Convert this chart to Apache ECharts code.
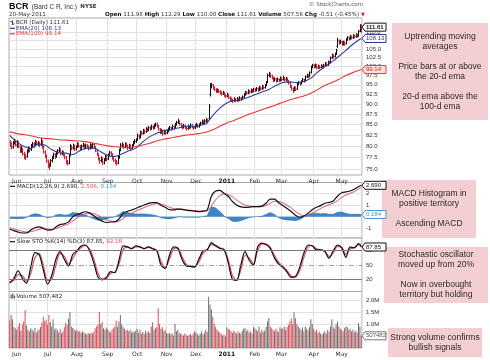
<!DOCTYPE html>
<html><head><meta charset="utf-8">
<script src="https://cdn.jsdelivr.net/npm/echarts@6/dist/echarts.min.js"></script>
<style>html,body{margin:0;padding:0;background:#fff}#c{width:490px;height:360px}</style>
</head><body><div id="c"></div>
<script>
// ---------- DATA ----------
const monthLabels = ['Jun','Jul','Aug','Sep','Oct','Nov','Dec','2011','Feb','Mar','Apr','May'];
const monthStartIdx = [5,27,48,70,91,112,133,155,175,194,217,237];
const priceTicks = [75,77.5,80,82.5,85,87.5,90,92.5,95,97.5,100,102.5,105,107.5,110];
const macdTicks = [-1,0,1,2];
const stoTicks = [20,50,80];
const volTicksK = [500,1000,1500,2000];

// daily bars [open, high, low, close], 24-May-2010 .. 20-May-2011
const ohlc = [
[80.9,81.3,79.9,80.6],[80.5,80.8,79.4,79.8],[79.9,81.1,79.6,80.9],[80.8,81.6,80.5,81.2],[81.1,81.4,80.1,80.4],
[80.2,81.3,79.8,81.0],[80.8,81.0,79.7,80.1],[79.8,80.1,78.6,78.9],[79.1,79.9,78.7,79.5],[79.3,79.6,78.1,78.4],
[78.3,78.7,77.3,77.8],[77.9,78.3,77.1,77.6],[77.8,79.2,77.6,78.9],[79.0,79.9,78.7,79.6],[79.4,79.8,78.8,79.2],
[79.4,80.4,79.1,80.1],[80.0,80.9,79.8,80.5],[80.6,80.8,79.8,80.2],[80.3,81.3,80.1,81.0],[80.9,81.2,80.3,80.6],
[80.5,81.1,80.2,80.8],[80.7,80.9,79.9,80.3],[80.4,81.8,80.2,81.4],[81.2,81.3,79.6,79.9],[79.8,80.1,78.5,78.8],
[78.7,79.0,77.5,77.9],[77.8,78.1,76.5,76.8],[76.7,77.0,75.4,75.9],[75.8,76.4,75.0,75.6],[75.9,77.1,75.7,76.8],
[76.9,77.8,76.6,77.5],[77.6,78.5,77.3,78.2],[78.1,78.4,77.3,77.7],[77.8,78.9,77.6,78.6],[78.5,79.3,78.3,79.0],
[79.1,79.7,78.8,79.4],[79.2,79.4,78.1,78.4],[78.5,79.0,78.2,78.7],[78.6,78.9,77.9,78.2],[78.1,78.3,77.3,77.6],
[77.5,77.8,76.2,76.6],[76.5,76.9,75.9,76.3],[76.4,78.1,76.2,77.8],[78.2,80.4,78.0,80.0],[79.9,80.2,79.2,79.6],
[79.7,80.5,79.4,80.2],[80.1,80.3,79.1,79.4],[79.5,80.1,79.2,79.8],[80.0,80.8,79.8,80.5],[80.4,80.7,79.8,80.1],
[80.0,80.2,79.1,79.4],[79.5,80.3,79.3,80.0],[80.1,80.7,79.9,80.4],[80.3,80.5,79.4,79.7],[79.8,80.5,79.6,80.2],
[80.1,80.4,79.7,80.0],[79.9,80.1,79.2,79.5],[79.6,80.6,79.4,80.3],[80.2,80.4,79.5,79.8],[79.9,80.7,79.7,80.4],
[80.3,80.5,79.6,79.9],[79.8,80.0,78.8,79.0],[78.9,79.2,78.0,78.2],[78.1,78.4,77.0,77.3],[77.2,77.5,76.3,76.8],
[76.9,77.7,76.6,77.4],[77.3,77.5,76.0,76.4],[76.5,77.3,76.2,77.0],[77.1,78.1,76.9,77.8],[77.7,77.9,76.8,77.1],
[77.3,78.3,77.1,78.0],[78.1,78.9,77.9,78.6],[78.5,78.8,77.9,78.3],[78.2,78.4,77.2,77.5],[77.4,77.7,76.7,77.0],
[76.9,77.2,76.2,76.6],[76.5,76.9,75.9,76.3],[76.4,77.8,76.2,77.5],[77.6,79.4,77.4,79.2],[79.3,80.6,79.0,80.3],
[80.2,80.8,79.9,80.4],[80.3,80.5,79.5,79.8],[79.9,80.8,79.7,80.5],[80.4,80.7,79.8,80.1],[80.0,80.3,79.3,79.6],
[79.7,80.5,79.5,80.2],[80.1,80.3,79.2,79.5],[79.6,80.4,79.4,80.1],[80.2,81.1,80.0,80.9],[80.8,81.5,80.6,81.2],
[81.1,81.7,80.9,81.4],[81.6,82.8,81.4,82.4],[82.3,82.6,81.7,82.0],[82.1,83.5,81.9,83.2],[83.1,83.4,82.6,83.0],
[83.0,83.9,82.8,83.6],[83.5,83.8,82.9,83.3],[83.4,84.3,83.2,84.0],[83.9,84.2,83.4,83.7],[83.8,84.6,83.6,84.3],
[84.2,84.5,83.7,84.0],[84.1,84.9,83.9,84.5],[84.4,84.7,83.9,84.2],[84.3,85.1,84.1,84.8],[84.8,85.4,84.6,85.0],
[85.0,85.4,84.4,84.7],[84.6,84.8,83.7,84.0],[83.9,84.1,82.9,83.2],[83.3,83.9,83.0,83.6],[83.5,83.7,82.5,82.9],
[83.0,83.7,82.8,83.4],[83.3,83.6,82.7,83.0],[83.1,83.8,82.9,83.5],[83.6,84.2,83.3,83.9],[83.8,84.6,83.6,84.3],
[84.2,84.4,83.7,84.0],[84.1,84.9,83.9,84.6],[84.5,84.7,83.9,84.2],[84.3,85.3,84.1,85.0],[85.1,85.8,84.9,85.5],
[85.6,86.3,85.3,85.8],[85.7,85.9,84.9,85.2],[85.1,85.3,84.4,84.7],[84.6,84.8,84.0,84.3],[84.4,85.1,84.2,84.8],
[84.7,84.9,84.1,84.4],[84.3,84.6,83.7,84.0],[84.1,84.9,83.9,84.6],[84.5,84.7,84.0,84.3],[84.4,85.2,84.2,84.9],
[84.8,85.0,84.2,84.5],[84.4,84.6,83.9,84.2],[84.3,85.0,84.1,84.7],[84.8,85.3,84.5,85.0],[84.9,85.1,84.3,84.6],
[84.7,85.2,84.4,84.9],[85.0,85.6,84.8,85.3],[85.4,86.1,85.2,85.8],[85.7,85.9,85.1,85.4],[85.5,86.2,85.3,85.9],
[85.8,86.5,85.6,86.2],[86.1,86.3,85.4,85.7],[86.5,89.9,86.3,89.5],[92.5,95.3,92.1,94.8],[94.7,95.4,94.2,95.0],
[94.8,95.1,93.9,94.3],[94.2,94.5,93.5,93.8],[93.7,94.0,93.0,93.4],[93.3,93.9,93.1,93.6],[93.5,93.8,92.9,93.2],
[93.2,93.5,92.6,93.0],[92.9,93.2,92.3,92.6],[92.7,93.3,92.5,92.9],[92.8,93.0,92.0,92.3],[92.2,92.5,91.7,92.0],
[92.1,92.8,91.9,92.4],[92.3,92.5,91.4,91.7],[91.6,91.9,90.9,91.2],[91.3,91.6,90.7,91.0],[91.0,91.3,90.4,90.8],
[90.9,91.6,90.7,91.3],[91.2,91.4,90.6,90.9],[91.0,91.7,90.8,91.4],[91.3,91.5,90.7,91.0],[91.1,91.9,90.9,91.6],
[91.5,91.7,91.0,91.3],[91.4,92.1,91.2,91.8],[91.9,92.7,91.7,92.4],[92.5,93.3,92.3,93.0],[92.9,93.2,92.5,92.8],
[92.9,93.7,92.7,93.4],[93.3,93.5,92.8,93.1],[93.2,93.9,93.0,93.6],[93.5,93.8,93.0,93.3],[93.4,94.1,93.2,93.8],
[93.7,94.0,93.2,93.5],[93.6,94.3,93.4,94.0],[93.9,94.2,93.3,93.6],[93.7,94.6,93.5,94.3],[94.2,94.4,93.6,93.9],
[94.0,94.9,93.8,94.6],[94.5,94.7,93.9,94.2],[94.3,95.1,94.1,94.8],[94.9,95.9,94.7,95.6],[95.8,97.9,95.6,97.5],
[97.6,98.4,97.2,98.0],[97.9,98.1,97.0,97.4],[97.3,97.6,96.6,96.9],[96.8,97.1,95.9,96.2],[96.3,96.9,96.0,96.6],
[96.5,96.7,95.7,96.0],[96.1,96.8,95.9,96.5],[96.4,96.6,95.8,96.1],[96.2,97.1,96.0,96.8],[96.7,97.0,96.1,96.4],
[96.5,97.3,96.3,96.9],[96.8,97.0,96.0,96.3],[96.4,97.0,96.2,96.7],[96.6,96.8,95.7,96.0],[95.9,96.2,95.2,95.5],
[95.4,95.7,94.3,94.6],[94.5,94.8,93.6,94.0],[93.9,94.2,93.0,93.5],[93.6,94.5,93.4,94.2],[94.1,94.4,93.5,93.8],
[93.9,95.4,93.8,95.2],[95.3,95.9,95.0,95.6],[95.5,95.7,94.9,95.3],[95.4,96.1,95.2,95.9],[96.0,96.7,95.8,96.4],
[96.3,96.5,95.7,96.0],[96.2,97.4,96.0,97.1],[97.2,97.9,97.0,97.6],[97.5,97.7,96.9,97.3],[97.4,98.5,97.2,98.2],
[98.4,100.1,98.2,99.8],[99.9,100.6,99.6,100.3],[100.2,100.5,99.6,99.9],[100.0,100.7,99.8,100.4],[100.3,100.5,99.3,99.6],
[99.7,100.4,99.5,100.1],[100.0,100.2,99.4,99.7],[99.8,100.5,99.6,100.2],[100.1,100.3,99.5,99.8],[99.9,100.6,99.7,100.3],
[100.4,101.1,100.2,100.8],[100.7,101.0,100.1,100.4],[100.5,101.5,100.3,101.2],[101.1,101.4,100.7,101.0],[101.2,102.7,101.0,102.4],
[102.5,103.5,102.3,103.2],[103.1,103.4,102.4,102.8],[102.9,103.8,102.7,103.5],[103.6,104.9,103.4,104.6],[105.8,108.2,105.5,107.4],
[107.3,107.7,106.4,106.8],[106.9,107.6,106.6,107.2],[107.1,107.3,106.1,106.4],[106.5,107.3,106.2,107.0],[106.9,107.2,106.1,106.5],
[106.7,108.1,106.5,107.8],[107.9,108.7,107.6,108.4],[108.3,108.6,107.7,108.0],[108.1,109.0,107.9,108.7],[108.6,108.9,108.0,108.3],
[108.4,109.3,108.2,109.0],[108.9,109.2,108.3,108.6],[108.7,109.6,108.5,109.2],[109.1,109.4,108.6,108.9],[109.0,110.6,108.8,110.3],
[110.4,112.4,110.2,112.12],[111.98,112.29,110.08,111.61]
];

// daily volume, thousands of shares
const volumeK = [
1150,1380,1200,880,820,760,900,1050,720,980,1100,1580,940,760,700,820,760,690,840,640,
720,780,880,1050,1300,1100,1180,980,1370,1080,900,1200,760,820,740,650,790,620,700,860,
1050,960,1220,1500,900,840,780,700,760,680,720,640,700,650,600,560,620,580,640,600,
680,820,900,980,1500,1000,1080,820,760,850,780,700,650,760,820,900,1150,880,1100,1370,
980,860,800,720,760,700,760,640,700,660,720,800,620,760,600,680,580,720,640,700,
620,900,1070,760,820,880,1660,1000,800,860,700,760,620,580,640,560,600,520,1000,700,
760,640,600,560,520,600,560,500,540,580,520,600,700,640,580,520,600,700,560,640,
760,680,2140,1800,1600,1300,1000,880,760,700,640,600,520,560,480,860,800,760,700,640,
720,660,600,700,640,600,720,800,840,700,760,640,700,600,880,820,760,700,900,640,
760,680,720,880,1100,1250,900,820,760,700,800,720,660,860,780,820,900,760,880,960,
1100,1240,1000,1490,1240,1000,900,820,760,860,700,900,800,740,860,1200,1000,800,700,760,
620,680,600,560,640,700,600,760,680,900,1200,860,800,980,1100,900,800,760,700,820,
900,860,760,800,700,760,660,720,640,1030,900,507.482
];

// moving averages sampled every 5 sessions (session index)
const emaIdx = [0,5,10,15,20,25,30,35,40,45,50,55,60,65,70,75,80,85,90,95,100,105,110,115,120,125,130,135,140,145,150,155,160,165,170,175,180,185,190,195,200,205,210,215,220,225,230,235,240,245,250,251];
const ema20 = [82.5,81.0,80.0,79.5,80.5,80.3,79.3,78.6,78.5,78.2,79.0,79.6,79.6,78.8,78.0,77.8,78.3,79.0,79.6,81.0,82.2,83.0,83.6,83.8,84.2,84.5,84.5,84.8,85.2,87.2,89.0,90.3,91.0,91.1,91.7,92.4,93.1,93.8,94.8,95.6,95.8,95.6,95.9,96.8,98.5,99.9,101.3,102.9,104.6,106.4,107.9,108.13];
const ema100 = [83.3,82.9,82.7,82.4,82.0,81.8,81.7,81.5,81.4,81.3,81.2,81.0,80.7,80.4,80.1,79.9,79.8,79.8,79.9,80.3,80.7,81.2,81.6,81.9,82.2,82.5,82.7,82.9,83.2,83.8,84.6,85.4,86.0,86.7,87.4,88.0,88.6,89.2,89.8,90.5,91.1,91.6,92.1,92.8,93.8,94.8,95.6,96.5,97.5,98.3,99.0,99.14];

// oscillators sampled every 3 sessions
const oscIdx = [0,3,6,9,12,15,18,21,24,27,30,33,36,39,42,45,48,51,54,57,60,63,66,69,72,75,78,81,84,87,90,93,96,99,102,105,108,111,114,117,120,123,126,129,132,135,138,141,144,147,150,153,156,159,162,165,168,171,174,177,180,183,186,189,192,195,198,201,204,207,210,213,216,219,222,225,228,231,234,237,240,243,246,249,251];
const macdLine = [-1.08,-1.2,-1.32,-1.4,-1.4,-1.15,-0.95,-0.88,-1.0,-1.15,-1.14,-0.88,-0.68,-0.62,-0.45,-0.02,0.18,0.3,0.42,0.3,0.08,-0.2,-0.38,-0.5,-0.46,-0.45,-0.2,0.28,0.45,0.57,0.7,0.86,1.0,1.14,1.2,1.2,0.98,0.8,0.6,0.58,0.64,0.62,0.55,0.51,0.47,0.43,0.48,0.57,1.75,2.2,2.25,2.0,1.75,1.3,1.0,0.84,0.8,0.82,0.86,0.86,0.9,1.15,1.5,1.5,1.2,0.95,0.7,0.45,0.12,-0.05,0.05,0.3,0.6,0.8,0.95,1.15,1.22,1.35,1.75,2.05,2.12,2.2,2.35,2.57,2.69];
const macdSignal = [-0.95,-1.05,-1.15,-1.25,-1.32,-1.3,-1.2,-1.08,-1.02,-1.05,-1.1,-1.02,-0.88,-0.75,-0.62,-0.38,-0.12,0.08,0.25,0.32,0.26,0.1,-0.1,-0.28,-0.38,-0.43,-0.38,-0.16,0.1,0.3,0.48,0.63,0.78,0.93,1.05,1.12,1.08,0.96,0.8,0.7,0.66,0.64,0.6,0.56,0.52,0.48,0.47,0.5,0.9,1.45,1.8,1.95,1.9,1.7,1.42,1.18,1.0,0.9,0.87,0.86,0.87,0.96,1.15,1.32,1.3,1.18,0.98,0.75,0.46,0.2,0.08,0.12,0.3,0.5,0.7,0.88,1.02,1.15,1.38,1.65,1.85,2.0,2.15,2.36,2.506];
const macdHist = [-0.13,-0.15,-0.17,-0.15,-0.08,0.15,0.25,0.2,0.02,-0.1,-0.04,0.14,0.2,0.13,0.17,0.36,0.3,0.22,0.17,-0.02,-0.18,-0.3,-0.28,-0.22,-0.08,-0.02,0.18,0.44,0.35,0.27,0.22,0.23,0.22,0.21,0.15,0.08,-0.1,-0.16,-0.2,-0.12,-0.02,-0.02,-0.05,-0.05,-0.05,-0.05,0.01,0.07,0.85,0.75,0.45,0.05,-0.15,-0.4,-0.42,-0.34,-0.2,-0.08,-0.01,0.0,0.03,0.19,0.35,0.18,-0.1,-0.23,-0.28,-0.3,-0.34,-0.25,-0.03,0.18,0.3,0.3,0.25,0.27,0.2,0.2,0.37,0.4,0.27,0.2,0.2,0.21,0.184];
const stoK = [12,22,38,22,12,45,76,72,40,10,28,62,78,62,48,72,80,90,92,80,55,25,19,24,36,34,60,90,88,84,90,88,84,88,84,80,50,43,70,88,85,62,48,47,46,62,80,82,97,90,85,82,55,20,18,50,78,60,50,88,96,93,85,65,52,45,35,24,26,45,75,92,90,82,82,78,64,80,92,86,66,88,86,95,87.85];
const stoD = [15,18,30,28,16,32,65,74,50,18,20,50,74,68,52,64,78,87,91,84,63,33,21,22,33,35,52,82,88,85,88,88,85,87,85,81,58,45,62,84,86,68,52,47,46,56,75,82,93,92,86,83,62,28,18,40,70,65,53,80,94,94,87,70,56,47,38,27,25,38,66,88,91,84,82,79,68,76,89,88,72,84,87,92,92.16];

// ---------- BUILD ----------
const FONT = '"DejaVu Sans", sans-serif';
const AFONT = '"Liberation Sans", Arial, sans-serif';
const cats = ohlc.map((d, i) => String(i));
const labelAt = {};
monthStartIdx.forEach((k, j) => { labelAt[k] = monthLabels[j]; });
const isMonth = (i) => labelAt[i] !== undefined;

const priceMin = 73.85, priceMax = 114.5;
const up = ohlc.map((d, i) => d[3] >= (i > 0 ? ohlc[i - 1][3] : d[0]));
const barData = ohlc.map((d, i) => [i, Math.log(d[0]), Math.log(d[1]), Math.log(d[2]), Math.log(d[3]), up[i] ? 1 : 0]);

const RED = '#d8202e', VRED = '#d9505b', VGRAY = '#6d6d6d';
const GRIDC = '#e2e2e2', BORDER = '#a8a8a8';

const L = 9, R = 128;
const grids = [
  {left: L, right: R, top: 18, height: 157},
  {left: L, right: R, top: 182.5, height: 55.5},
  {left: L, right: R, top: 238, height: 53.5},
  {left: L, right: R, top: 291.5, height: 56.5}
].map(g => Object.assign(g, {show: true, borderColor: BORDER, borderWidth: 1, backgroundColor: '#fff', containLabel: false}));

function xAx(gi, showLabel) {
  return {
    type: 'category', gridIndex: gi, data: cats, boundaryGap: true,
    axisLine: {show: false}, axisTick: {show: false},
    axisLabel: {
      show: showLabel, interval: (i) => isMonth(i), margin: 3,
      formatter: (v, i) => labelAt[i] === '2011' ? '{b|2011}' : (labelAt[i] || ''),
      fontSize: 6, color: '#333', fontFamily: FONT,
      rich: {b: {fontWeight: 'bold', fontSize: 6, fontFamily: FONT, color: '#111'}}
    },
    splitLine: {show: true, interval: (i) => isMonth(i), lineStyle: {color: GRIDC, width: 1}}
  };
}
function yAx(gi, min, max, ticks, fmt) {
  return {
    type: 'value', gridIndex: gi, position: 'right', min, max, scale: true,
    axisLine: {show: false},
    axisTick: {show: false, customValues: ticks},
    axisLabel: {customValues: ticks, formatter: fmt, fontSize: 6, color: '#333', margin: 4, fontFamily: AFONT},
    splitLine: {show: true, lineStyle: {color: GRIDC, width: 1}}
  };
}

const option = {
  animation: false,
  backgroundColor: '#fff',
  textStyle: {fontFamily: FONT},
  grid: grids,
  xAxis: [xAx(0, true), xAx(1, false), xAx(2, false), xAx(3, true)],
  yAxis: [
    yAx(0, Math.log(priceMin), Math.log(priceMax), priceTicks.map(Math.log), v => Math.exp(v).toFixed(1)),
    yAx(1, -1.83, 2.93, macdTicks, v => String(Math.round(v))),
    Object.assign(yAx(2, -5.5, 106.7, stoTicks, v => String(Math.round(v))), {splitLine: {show: false}}),
    yAx(3, 0, 2354, volTicksK, v => (v / 1000).toFixed(1) + 'M')
  ],
  series: [
    {
      type: 'custom', xAxisIndex: 0, yAxisIndex: 0, data: barData, clip: true,
      encode: {x: 0, y: [1, 2, 3, 4]},
      renderItem: (params, api) => {
        const i = api.value(0);
        const pO = api.coord([i, api.value(1)]), pH = api.coord([i, api.value(2)]);
        const pL = api.coord([i, api.value(3)]), pC = api.coord([i, api.value(4)]);
        const col = api.value(5) ? '#111' : RED;
        const x = Math.round(pH[0]) + 0.5;
        const st = {stroke: col, lineWidth: 1};
        return {type: 'group', children: [
          {type: 'line', shape: {x1: x, y1: pH[1] - 0.5, x2: x, y2: pL[1] + 0.5}, style: st},
          {type: 'line', shape: {x1: x - 1, y1: pO[1], x2: x, y2: pO[1]}, style: st},
          {type: 'line', shape: {x1: x, y1: pC[1], x2: x + 1, y2: pC[1]}, style: st}
        ]};
      }
    },
    {type: 'line', xAxisIndex: 0, yAxisIndex: 0, data: emaIdx.map((k, j) => [k, Math.log(ema20[j])]), showSymbol: false, smooth: 0.3, lineStyle: {color: '#2d3a96', width: 1.1}},
    {type: 'line', xAxisIndex: 0, yAxisIndex: 0, data: emaIdx.map((k, j) => [k, Math.log(ema100[j])]), showSymbol: false, smooth: 0.3, lineStyle: {color: '#e23a3a', width: 1.1}},
    {type: 'line', xAxisIndex: 1, yAxisIndex: 1, data: oscIdx.map((k, j) => [k, macdHist[j]]), showSymbol: false, lineStyle: {color: '#2a6aa8', width: 0.6}, areaStyle: {color: '#3f86c8', opacity: 1, origin: 0}},
    {type: 'line', xAxisIndex: 1, yAxisIndex: 1, data: oscIdx.map((k, j) => [k, macdSignal[j]]), showSymbol: false, smooth: 0.3, lineStyle: {color: '#e05060', width: 1}},
    {type: 'line', xAxisIndex: 1, yAxisIndex: 1, data: oscIdx.map((k, j) => [k, macdLine[j]]), showSymbol: false, smooth: 0.3, lineStyle: {color: '#111', width: 1.2}},
    {type: 'line', xAxisIndex: 2, yAxisIndex: 2, data: oscIdx.map((k, j) => [k, stoD[j]]), showSymbol: false, smooth: 0.3, lineStyle: {color: '#e05060', width: 1.2},
      markLine: {silent: true, symbol: 'none', label: {show: false}, data: [
        {yAxis: 80, lineStyle: {color: '#777', width: 1, type: 'solid'}},
        {yAxis: 20, lineStyle: {color: '#777', width: 1, type: 'solid'}},
        {yAxis: 50, lineStyle: {color: '#888', width: 0.8, type: [5, 2, 1, 2]}}
      ]}},
    {type: 'line', xAxisIndex: 2, yAxisIndex: 2, data: oscIdx.map((k, j) => [k, stoK[j]]), showSymbol: false, smooth: 0.3, lineStyle: {color: '#111', width: 1.2}},
    {type: 'bar', xAxisIndex: 3, yAxisIndex: 3, barWidth: 1, data: volumeK.map((v, i) => ({value: v, itemStyle: {color: up[i] ? VGRAY : VRED}}))}
  ]
};

const chart = echarts.init(document.getElementById('c'), null, {renderer: 'canvas', width: 490, height: 360});
chart.setOption(option);

// ---------- ANNOTATIONS ----------
function T(x, y, text, font, fill, align) {
  return {type: 'text', x, y, z: 50, style: {text, font, fill, align: align || 'left', textAlign: align || 'left', verticalAlign: 'middle', textVerticalAlign: 'middle'}};
}
function tag(y, text, stroke, color, fill, bold) {
  const x = 362;
  return [
    {type: 'polygon', z: 60, shape: {points: [[x, y], [x + 3, y - 4], [x + 24, y - 4], [x + 24, y + 4], [x + 3, y + 4]]}, style: {fill: fill || '#fff', stroke, lineWidth: 1}},
    {type: 'text', z: 61, x: x + 4, y: y, style: {text, fill: color, font: (bold ? 'bold ' : '') + '6px ' + AFONT, verticalAlign: 'middle', textVerticalAlign: 'middle'}}
  ];
}
const py = (p) => chart.convertToPixel({gridIndex: 0}, [251, Math.log(p)])[1];
const my = (v) => chart.convertToPixel({gridIndex: 1}, [251, v])[1];
const sy = (v) => chart.convertToPixel({gridIndex: 2}, [251, v])[1];
const vy = (v) => chart.convertToPixel({gridIndex: 3}, [251, v])[1];
const last = ohlc.length - 1;

function box(x, y, w, h, lines, cx, cy) {
  return [
    {type: 'rect', z: 40, shape: {x, y, width: w, height: h}, style: {fill: '#f3cfd1'}},
    {type: 'text', z: 41, x: cx, y: cy, style: {text: lines, font: '8.5px ' + AFONT, fill: '#2a2a2a', align: 'center', textAlign: 'center', verticalAlign: 'middle', textVerticalAlign: 'middle', lineHeight: 10}}
  ];
}

const S = 5.6;
const g = [].concat(
  [{type: 'text', x: 9, y: 7, z: 50, style: {text: '{a|BCR} {b|(Bard C R, Inc.)} {c|NYSE}', verticalAlign: 'middle', textVerticalAlign: 'middle',
    rich: {a: {font: 'bold 9px ' + AFONT, fill: '#111', color: '#111'}, b: {font: '6.5px ' + AFONT, fill: '#333', color: '#333'}, c: {font: 'bold 5.5px ' + FONT, fill: '#333', color: '#333'}}}}],
  [T(9, 15, '20-May-2011', S + 'px ' + FONT, '#333')],
  [{type: 'text', x: 105, y: 15, z: 50, style: {text: '{b|Open} 111.98 {b|High} 112.29 {b|Low} 110.08 {b|Close} 111.61 {b|Volume} 507.5K {b|Chg} -0.51 (-0.45%) {r|▼}',
    font: S + 'px ' + FONT, fill: '#333', verticalAlign: 'middle', textVerticalAlign: 'middle',
    rich: {b: {font: 'bold ' + S + 'px ' + FONT, fill: '#111', color: '#111'}, r: {font: '5px ' + FONT, fill: RED, color: RED}}}}],
  [T(363, 5, '© StockCharts.com', '5.5px ' + FONT, '#555', 'right')],
  // price legend
  [{type: 'line', z: 50, shape: {x1: 12.5, y1: 20.5, x2: 12.5, y2: 25}, style: {stroke: '#444', lineWidth: 1}},
   {type: 'line', z: 50, shape: {x1: 10.5, y1: 21.5, x2: 12.5, y2: 21.5}, style: {stroke: '#444', lineWidth: 1}},
   {type: 'line', z: 50, shape: {x1: 12.5, y1: 24, x2: 14.5, y2: 24}, style: {stroke: '#444', lineWidth: 1}}],
  [T(16, 22.7, 'BCR (Daily) 111.61', S + 'px ' + FONT, '#333')],
  [{type: 'line', z: 50, shape: {x1: 10, y1: 28.3, x2: 15, y2: 28.3}, style: {stroke: '#2d3a96', lineWidth: 1.2}}],
  [T(16, 28.3, 'EMA(20) 108.13', S + 'px ' + FONT, '#2d3a96')],
  [{type: 'line', z: 50, shape: {x1: 10, y1: 33.8, x2: 15, y2: 33.8}, style: {stroke: '#e23a3a', lineWidth: 1.2}}],
  [T(16, 33.8, 'EMA(100) 99.14', S + 'px ' + FONT, '#e23a3a')],
  // MACD title
  [{type: 'line', z: 50, shape: {x1: 10, y1: 186.3, x2: 15, y2: 186.3}, style: {stroke: '#111', lineWidth: 1.2}}],
  [{type: 'text', x: 17, y: 186.3, z: 50, style: {text: 'MACD(12,26,9) 2.690, {r|2.506,} {c|0.184}', font: S + 'px ' + FONT, fill: '#222', verticalAlign: 'middle', textVerticalAlign: 'middle',
    rich: {r: {font: S + 'px ' + FONT, fill: '#e05060', color: '#e05060'}, c: {font: S + 'px ' + FONT, fill: '#3f9ad8', color: '#3f9ad8'}}}}],
  // STO title
  [{type: 'line', z: 50, shape: {x1: 10, y1: 241.7, x2: 15, y2: 241.7}, style: {stroke: '#111', lineWidth: 1.2}}],
  [{type: 'text', x: 17, y: 241.7, z: 50, style: {text: 'Slow STO %K(14) %D(3) 87.85, {r|92.16}', font: S + 'px ' + FONT, fill: '#222', verticalAlign: 'middle', textVerticalAlign: 'middle',
    rich: {r: {font: S + 'px ' + FONT, fill: '#e05060', color: '#e05060'}}}}],
  // Volume title
  [{type: 'rect', z: 50, shape: {x: 10.5, y: 294.5, width: 1.2, height: 4}, style: {fill: '#555'}},
   {type: 'rect', z: 50, shape: {x: 12.2, y: 293.5, width: 1.2, height: 5}, style: {fill: '#555'}},
   {type: 'rect', z: 50, shape: {x: 13.9, y: 295.5, width: 1.2, height: 3}, style: {fill: '#555'}}],
  [T(16.5, 296.7, 'Volume 507,482', S + 'px ' + FONT, '#222')],
  // value tags
  tag(py(ema100[ema100.length - 1]), '99.14', '#e23a3a', '#d02020', '#fbe3e3'),
  tag(py(ema20[ema20.length - 1]), '108.13', '#2d3a96', '#2d3a96', '#fff'),
  tag(py(ohlc[last][3]), '111.61', '#111', '#111', '#fff', true),
  tag(my(macdHist[macdHist.length - 1]), '0.184', '#3f9ad8', '#3f9ad8', '#fff'),
  tag(my(macdLine[macdLine.length - 1]), '2.690', '#111', '#111', '#fff'),
  tag(sy(stoK[stoK.length - 1]), '87.85', '#111', '#111', '#fff'),
  tag(vy(volumeK[last]), '507482', '#777', '#555', '#fff'),
  // annotation boxes
  box(392, 23, 96, 97, 'Uptrending moving\naverages\n\nPrice bars at or above\nthe 20-d ema\n\n20-d ema above the\n100-d ema', 440, 71.5),
  box(382, 180, 94, 58, 'MACD Histogram in\npositive territory\n\nAscending MACD', 429, 209),
  box(384, 247, 104, 56, 'Stochastic oscillator\nmoved up from 20%\n\nNow in overbought\nterritory but holding', 436, 275),
  box(388, 328, 94, 29, 'Strong volume confirms\nbullish signals', 435, 342.5)
);
chart.setOption({graphic: {elements: g}});
</script>
</body></html>
